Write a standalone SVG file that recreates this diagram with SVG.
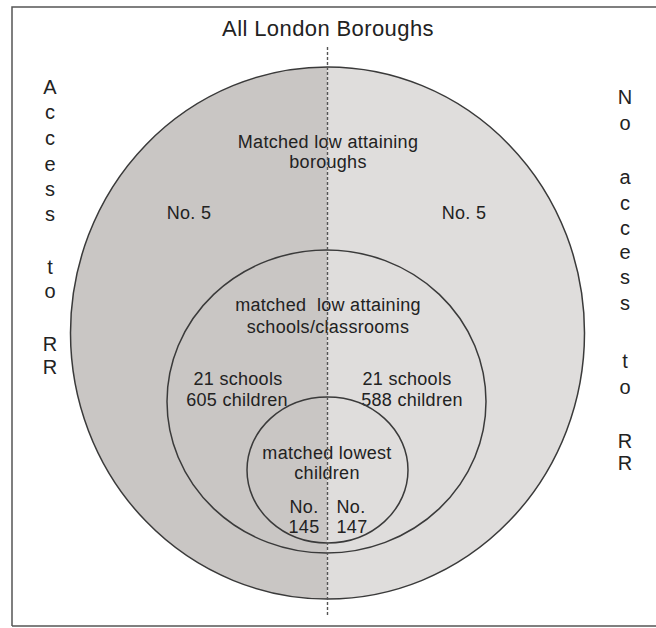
<svg xmlns="http://www.w3.org/2000/svg" width="656" height="628" viewBox="0 0 656 628">
<style>
  text { font-family: "Liberation Sans", Arial, sans-serif; fill: #222222; text-anchor: middle; }
  .t { font-size: 18px; letter-spacing: 0.3px; white-space: pre; }
  .title { font-size: 22px; letter-spacing: 0.4px; }
  .v { font-size: 20px; }
  .edge { fill: none; stroke: #3a3a3a; stroke-width: 1.5; }
  .frame { stroke: #555; stroke-width: 1.5; fill: none; }
  .div { stroke: #555; stroke-width: 1.4; stroke-dasharray: 3 2; fill: none; }
</style>
<rect x="0" y="0" width="656" height="628" fill="#ffffff"/>
<g id="frame">
  <path class="frame" d="M12 626 V7 H656 M12 626 H656"/>
</g>
<g id="title"><text class="title" x="328" y="36">All London Boroughs</text></g>
<g id="left-label">
  <text class="v" x="50" y="94">A</text>
  <text class="v" x="50" y="119">c</text>
  <text class="v" x="50" y="145">c</text>
  <text class="v" x="50" y="171">e</text>
  <text class="v" x="50" y="196">s</text>
  <text class="v" x="50" y="221">s</text>
  <text class="v" x="50" y="274">t</text>
  <text class="v" x="50" y="298">o</text>
  <text class="v" x="50" y="351">R</text>
  <text class="v" x="50" y="374">R</text>
</g>
<g id="right-label">
  <text class="v" x="625" y="104">N</text>
  <text class="v" x="625" y="130">o</text>
  <text class="v" x="625" y="184">a</text>
  <text class="v" x="625" y="210">c</text>
  <text class="v" x="625" y="235">c</text>
  <text class="v" x="625" y="259">e</text>
  <text class="v" x="625" y="284">s</text>
  <text class="v" x="625" y="310">s</text>
  <text class="v" x="625" y="368">t</text>
  <text class="v" x="625" y="394">o</text>
  <text class="v" x="625" y="448">R</text>
  <text class="v" x="625" y="470">R</text>
</g>
<g id="boroughs">
  <path d="M327.5 67 A257 266 0 0 0 327.5 599 Z" fill="#c9c6c4"/>
  <path d="M327.5 67 A257 266 0 0 1 327.5 599 Z" fill="#dfdddc"/>
  <ellipse class="edge" cx="327.5" cy="333" rx="257" ry="266"/>
  <text class="t" x="328" y="148">Matched low attaining</text>
  <text class="t" x="328" y="168">boroughs</text>
  <text class="t" x="189" y="219">No. 5</text>
  <text class="t" x="464" y="219">No. 5</text>
</g>
<g id="schools">
  <ellipse class="edge" cx="326.5" cy="401.5" rx="159.5" ry="151.5" fill="#fafafa"/>
  <text class="t" x="328" y="311">matched  low attaining</text>
  <text class="t" x="328" y="333">schools/classrooms</text>
  <text class="t" x="238" y="385">21 schools</text>
  <text class="t" x="237" y="406">605 children</text>
  <text class="t" x="407" y="385">21 schools</text>
  <text class="t" x="412" y="406">588 children</text>
</g>
<g id="children">
  <ellipse class="edge" cx="327.5" cy="470" rx="80.5" ry="73" fill="#ececec"/>
  <text class="t" x="327" y="459">matched lowest</text>
  <text class="t" x="327" y="479">children</text>
  <text class="t" x="304" y="513">No.</text>
  <text class="t" x="304" y="533">145</text>
  <text class="t" x="351" y="513">No.</text>
  <text class="t" x="352" y="533">147</text>
</g>
<g id="connectors">
  <line class="div" x1="327.5" y1="47" x2="327.5" y2="615"/>
</g>
</svg>
